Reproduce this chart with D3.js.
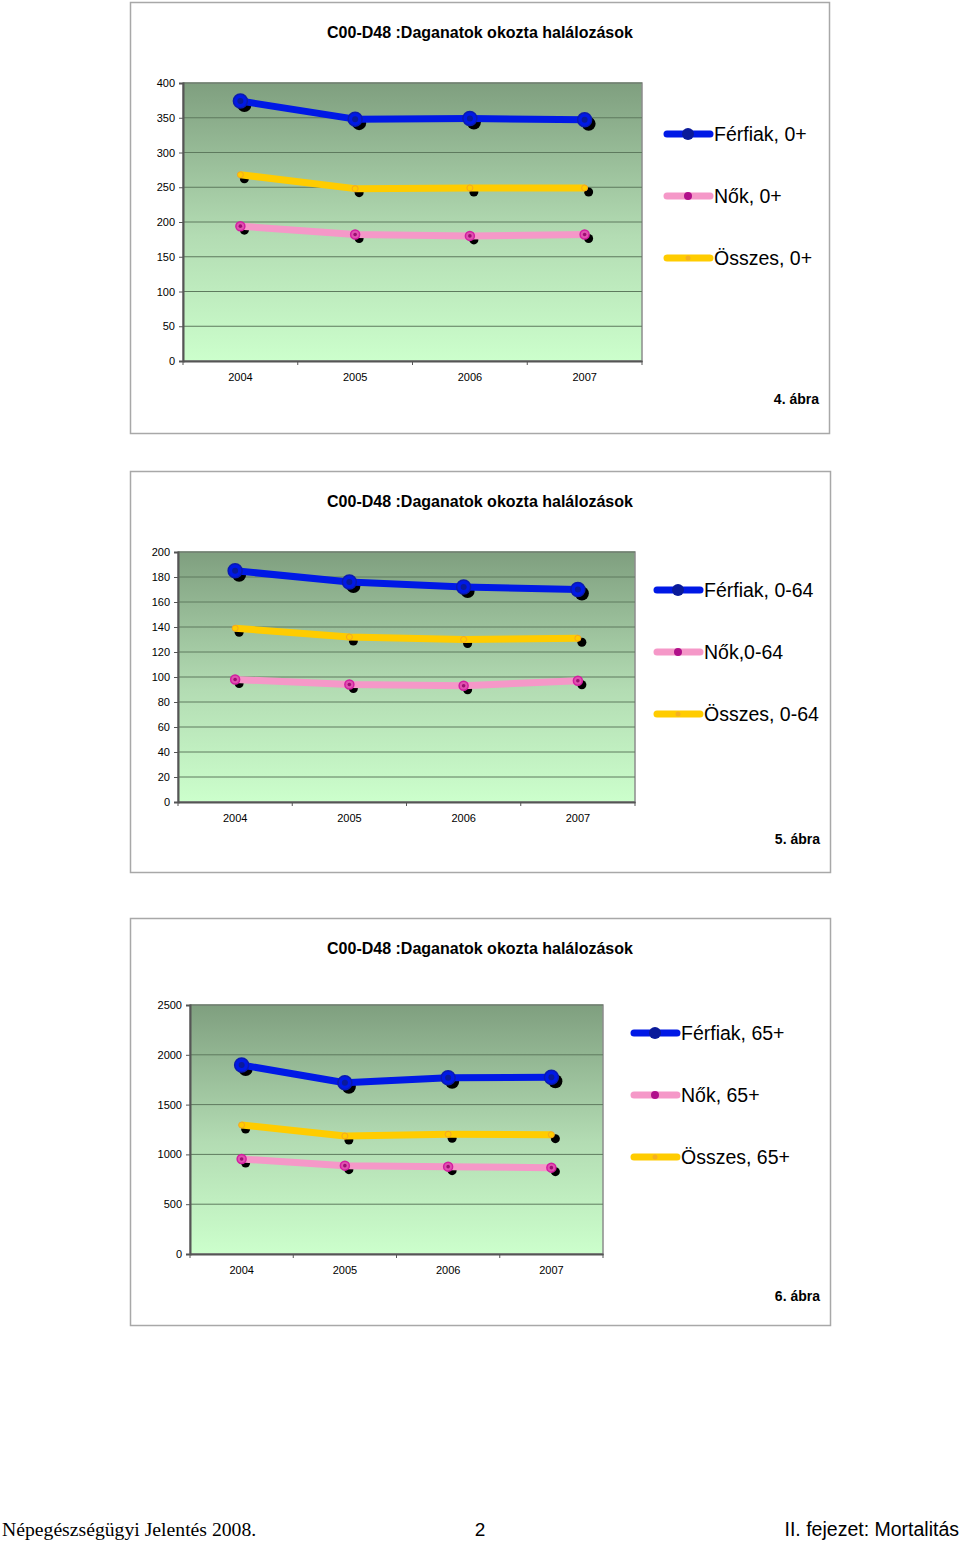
<!DOCTYPE html>
<html>
<head>
<meta charset="utf-8">
<script src="https://cdn.jsdelivr.net/npm/d3@7"></script>
<style>
  body { margin: 0; background: #fff; }
  svg { display: block; }
  text { font-family: "Liberation Sans", Arial, sans-serif; }
</style>
</head>
<body>
<svg id="page" width="960" height="1544"></svg>
<script>
// data
const years = ["2004", "2005", "2006", "2007"];

const men0 = [374, 348, 349, 347];
const women0 = [194, 182, 180, 182];
const all0 = [268, 248, 249, 249];
const ticks0 = [0, 50, 100, 150, 200, 250, 300, 350, 400];

const men064 = [185, 176, 172, 170];
const women064 = [98, 94, 93, 97];
const all064 = [139, 132, 130, 131];
const ticks064 = [0, 20, 40, 60, 80, 100, 120, 140, 160, 180, 200];

const men65 = [1898, 1720, 1770, 1774];
const women65 = [954, 887, 877, 867];
const all65 = [1295, 1185, 1202, 1198];
const ticks65 = [0, 500, 1000, 1500, 2000, 2500];

const title = "C00-D48 :Daganatok okozta halálozások";

const svg = d3.select("#page");

const defs = svg.append("defs");
const grad = defs.append("linearGradient")
  .attr("id", "plotbg").attr("x1", 0).attr("y1", 0).attr("x2", 0).attr("y2", 1);
grad.append("stop").attr("offset", "0%").attr("stop-color", "#7f9f7f");
grad.append("stop").attr("offset", "55%").attr("stop-color", "#b3dcb3");
grad.append("stop").attr("offset", "100%").attr("stop-color", "#ccffcc");

// series styling: line colour, marker colour
const styles = [
  { line: "#0019e6", mark: "#0a1ab0", w: 7 },
  { line: "#f598c8", mark: "#d21ea0", w: 7 },
  { line: "#ffcc00", mark: "#f5a623", w: 7 }
];

function drawChart(c) {
  const g = svg.append("g");

  // outer frame
  g.append("rect")
    .attr("x", c.box[0] + 0.5).attr("y", c.box[1] + 0.5)
    .attr("width", c.box[2] - c.box[0]).attr("height", c.box[3] - c.box[1])
    .attr("fill", "#fff").attr("stroke", "#a8a8a8").attr("stroke-width", 1.5);

  g.append("text")
    .attr("x", 480).attr("y", c.titleY)
    .attr("text-anchor", "middle").attr("font-size", 16).attr("font-weight", "bold")
    .text(title);

  const x = d3.scaleBand().domain(years).range([c.plot[0], c.plot[2]]);
  const y = d3.scaleLinear().domain([0, c.ticks[c.ticks.length - 1]]).range([c.plot[3], c.plot[1]]);

  g.append("rect")
    .attr("x", c.plot[0]).attr("y", c.plot[1])
    .attr("width", c.plot[2] - c.plot[0]).attr("height", c.plot[3] - c.plot[1])
    .attr("fill", "url(#plotbg)").attr("stroke", "#8c8c8c").attr("stroke-width", 1.5);

  // grid
  g.selectAll(".grid").data(c.ticks.slice(1))
    .enter().append("line")
    .attr("x1", c.plot[0]).attr("x2", c.plot[2])
    .attr("y1", d => y(d)).attr("y2", d => y(d))
    .attr("stroke", "#5e7a5e").attr("stroke-width", 1);

  // y axis
  const ya = g.append("g")
    .attr("transform", `translate(${c.plot[0]},0)`)
    .call(d3.axisLeft(y).tickValues(c.ticks).tickSize(4).tickPadding(4).tickFormat(d3.format("d")));
  ya.select(".domain").attr("stroke", "#555").attr("stroke-width", 2);
  ya.selectAll(".tick line").attr("stroke", "#555");
  ya.selectAll("text").attr("font-size", 11).attr("fill", "#000")
    .style("font-family", "'Liberation Sans', Arial, sans-serif");

  // x axis
  const xa = g.append("g")
    .attr("transform", `translate(0,${c.plot[3]})`)
    .call(d3.axisBottom(x).tickSize(0).tickPadding(12));
  xa.select(".domain").attr("stroke", "#555").attr("stroke-width", 2);
  xa.selectAll("text").attr("font-size", 11).attr("fill", "#000")
    .style("font-family", "'Liberation Sans', Arial, sans-serif");
  // tick marks at band edges
  g.selectAll(".xt").data(years.concat(["end"]))
    .enter().append("line")
    .attr("x1", (d, i) => c.plot[0] + i * x.bandwidth())
    .attr("x2", (d, i) => c.plot[0] + i * x.bandwidth())
    .attr("y1", c.plot[3]).attr("y2", c.plot[3] + 4)
    .attr("stroke", "#555");

  const line = d3.line()
    .x((d, i) => x(years[i]) + x.bandwidth() / 2)
    .y(d => y(d));

  // draw order: women, total, men (men on top)
  const order = [1, 2, 0];
  order.forEach(si => {
    const vals = c.series[si];
    const st = styles[si];
    // shadow markers
    g.selectAll(null).data(vals).enter().append("circle")
      .attr("cx", (d, i) => x(years[i]) + x.bandwidth() / 2 + 4)
      .attr("cy", d => y(d) + 4)
      .attr("r", si === 0 ? 7 : 4.5)
      .attr("fill", "#000");
    g.append("path").datum(vals)
      .attr("d", line)
      .attr("fill", "none").attr("stroke", st.line)
      .attr("stroke-width", st.w).attr("stroke-linejoin", "round");
    g.selectAll(null).data(vals).enter().append("circle")
      .attr("cx", (d, i) => x(years[i]) + x.bandwidth() / 2)
      .attr("cy", d => y(d))
      .attr("r", si === 0 ? 7 : (si === 1 ? 4.5 : 3))
      .attr("fill", si === 0 ? "#0019e6" : (si === 1 ? "#e050b0" : "#ffcc00"))
      .attr("stroke", st.mark).attr("stroke-width", si === 2 ? 1 : 1.5);
    if (si !== 2) {
      g.selectAll(null).data(vals).enter().append("circle")
        .attr("cx", (d, i) => x(years[i]) + x.bandwidth() / 2)
        .attr("cy", d => y(d))
        .attr("r", si === 0 ? 3 : 1.8)
        .attr("fill", si === 0 ? "#0a1a9a" : "#9a1070");
    }
  });

  // legend
  c.legend.forEach((name, i) => {
    const st = styles[i];
    const ly = c.legendY + i * 62;
    const lx = c.legendX;
    g.append("line")
      .attr("x1", lx).attr("x2", lx + 43).attr("y1", ly).attr("y2", ly)
      .attr("stroke", st.line).attr("stroke-width", 7).attr("stroke-linecap", "round");
    g.append("circle").attr("cx", lx + 21).attr("cy", ly)
      .attr("r", i === 0 ? 6 : (i === 1 ? 4 : 2.5))
      .attr("fill", i === 0 ? "#0a1a9a" : (i === 1 ? "#b0108a" : "#f5b020"));
    g.append("text")
      .attr("x", lx + 47).attr("y", ly + 7)
      .attr("font-size", 19.5).attr("fill", "#000")
      .text(name);
  });

  g.append("text")
    .attr("x", c.figX).attr("y", c.figY)
    .attr("text-anchor", "end").attr("font-size", 14).attr("font-weight", "bold")
    .text(c.fig);
}

drawChart({
  box: [130, 2, 829, 433], titleY: 38,
  plot: [183, 83, 642, 361], ticks: ticks0,
  series: [men0, women0, all0],
  legend: ["Férfiak, 0+", "Nők, 0+", "Összes, 0+"],
  legendX: 667, legendY: 134,
  fig: "4. ábra", figX: 819, figY: 404
});

drawChart({
  box: [130, 471, 830, 872], titleY: 507,
  plot: [178, 552, 635, 802], ticks: ticks064,
  series: [men064, women064, all064],
  legend: ["Férfiak, 0-64", "Nők,0-64", "Összes, 0-64"],
  legendX: 657, legendY: 590,
  fig: "5. ábra", figX: 820, figY: 844
});

drawChart({
  box: [130, 918, 830, 1325], titleY: 954,
  plot: [190, 1005, 603, 1254], ticks: ticks65,
  series: [men65, women65, all65],
  legend: ["Férfiak, 65+", "Nők, 65+", "Összes, 65+"],
  legendX: 634, legendY: 1033,
  fig: "6. ábra", figX: 820, figY: 1301
});

// page footer
svg.append("text")
  .attr("x", 2).attr("y", 1536)
  .attr("font-size", 19.7).style("font-family", "'Liberation Serif', 'Times New Roman', serif")
  .text("Népegészségügyi Jelentés 2008.");
svg.append("text")
  .attr("x", 480).attr("y", 1536).attr("text-anchor", "middle")
  .attr("font-size", 19)
  .text("2");
svg.append("text")
  .attr("x", 959).attr("y", 1536).attr("text-anchor", "end")
  .attr("font-size", 19.5)
  .text("II. fejezet: Mortalitás");
</script>
</body>
</html>
